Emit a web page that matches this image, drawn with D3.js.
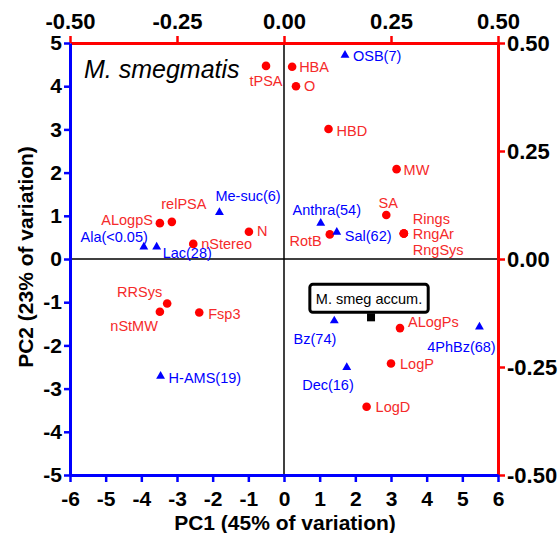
<!DOCTYPE html>
<html>
<head>
<meta charset="utf-8">
<script src="https://cdn.jsdelivr.net/npm/d3@7/dist/d3.min.js"></script>
<style>
  html, body { margin: 0; padding: 0; background: #fff; }
  svg { display: block; font-family: "Liberation Sans", Arial, Helvetica, sans-serif; }
</style>
</head>
<body>
<svg id="chart" width="560" height="533"></svg>
<script>
// Variable loadings (top/right axes, red dots)
const loadingNames = ["tPSA", "HBA", "O", "HBD", "MW", "SA", "Rings", "RngAr", "RngSys", "RotB",
  "relPSA", "ALogpS", "nStereo", "N", "RRSys", "nStMW", "Fsp3", "ALogPs", "LogP", "LogD"];
const loadingPC1 = [-0.042, 0.019, 0.028, 0.104, 0.263, 0.239, 0.280, 0.280, 0.280, 0.107,
  -0.262, -0.290, -0.212, -0.082, -0.273, -0.290, -0.198, 0.271, 0.250, 0.193];
const loadingPC2 = [0.447, 0.445, 0.400, 0.301, 0.208, 0.102, 0.059, 0.059, 0.059, 0.057,
  0.086, 0.083, 0.035, 0.063, -0.103, -0.122, -0.124, -0.160, -0.242, -0.342];

// Compound scores (bottom/left axes, blue triangles)
const compoundNames = ["OSB(7)", "Me-suc(6)", "Ala(<0.05)", "Lac(28)", "Anthra(54)", "Sal(62)",
  "H-AMS(19)", "Bz(74)", "4PhBz(68)", "Dec(16)"];
const compoundPC1 = [1.71, -1.81, -3.93, -3.57, 1.03, 1.48, -3.46, 1.41, 5.48, 1.76];
const compoundPC2 = [4.72, 1.08, 0.28, 0.28, 0.83, 0.62, -2.71, -1.43, -1.57, -2.51];

// Accumulation score (black square)
const accumNames = ["M. smeg accum."];
const accumPC1 = [2.44];
const accumPC2 = [-1.35];

// Tick values
const pc1Ticks = [-6, -5, -4, -3, -2, -1, 0, 1, 2, 3, 4, 5, 6];
const pc2Ticks = [-5, -4, -3, -2, -1, 0, 1, 2, 3, 4, 5];
const loadingTicks = [-0.5, -0.25, 0, 0.25, 0.5];

const titleText = "M. smegmatis";
const xTitle = "PC1 (45% of variation)";
const yTitle = "PC2 (23% of variation)";

// Label placement: [dx, dy, anchor] relative to the marker
const labelPlacement = {
  "tPSA": [0, 15, "middle"], "HBA": [7, 0, "start"], "O": [8, 0, "start"],
  "HBD": [8, 2, "start"], "MW": [7, 1, "start"], "SA": [2, -12, "middle"],
  "Rings": [9, -15, "start"], "RngAr": [9, 0, "start"], "RngSys": [9, 16, "start"],
  "RotB": [-8, 6, "end"], "relPSA": [12, -18, "middle"], "ALogpS": [-7, -3, "end"],
  "nStereo": [8, 0, "start"], "N": [8, -1, "start"], "RRSys": [-5, -12, "end"],
  "nStMW": [-2, 14, "end"], "Fsp3": [9, 1, "start"], "ALogPs": [8, -6, "start"],
  "LogP": [9, 0, "start"], "LogD": [9, 0, "start"],
  "OSB(7)": [8, 1, "start"], "Me-suc(6)": [-4, -17, "start"], "Ala(<0.05)": [4, -10, "end"],
  "Lac(28)": [6, 6, "start"], "Anthra(54)": [6, -13, "middle"], "Sal(62)": [8, 4, "start"],
  "H-AMS(19)": [8, 2, "start"], "Bz(74)": [2, 18, "end"], "4PhBz(68)": [-18, 20, "middle"],
  "Dec(16)": [7, 17, "end"]
};

const RED = "#ff0000", RED_TEXT = "#f52a2a", BLUE = "#0000ff";

const svg = d3.select("#chart");
const plotLeft = 70, plotRight = 498, plotTop = 43, plotBottom = 475;

const x = d3.scaleLinear().domain([-6, 6]).range([plotLeft, plotRight]);
const y = d3.scaleLinear().domain([-5, 5]).range([plotBottom, plotTop]);
const xL = d3.scaleLinear().domain([-0.5, 0.5]).range([plotLeft, plotRight]);
const yL = d3.scaleLinear().domain([-0.5, 0.5]).range([plotBottom, plotTop]);

// zero reference lines
svg.append("line").attr("x1", x(0)).attr("x2", x(0)).attr("y1", plotTop).attr("y2", plotBottom)
  .attr("stroke", "#000").attr("stroke-width", 1.5);
svg.append("line").attr("x1", plotLeft).attr("x2", plotRight).attr("y1", y(0)).attr("y2", y(0))
  .attr("stroke", "#000").attr("stroke-width", 1.5);

function styleAxis(g, color, size) {
  g.select(".domain").attr("stroke", color).attr("stroke-width", 3);
  g.selectAll(".tick line").attr("stroke", color).attr("stroke-width", 2.5);
  g.selectAll(".tick text").attr("fill", "#000").attr("font-size", size)
    .attr("font-weight", "bold").attr("font-family", "Liberation Sans, Arial, sans-serif");
}

// plain hyphen for negative numbers
const fmt2 = v => d3.format(".2f")(v).replace("\u2212", "-");
const fmtInt = v => d3.format("d")(v).replace("\u2212", "-");

// top axis (loadings, red)
svg.append("g").attr("transform", `translate(0,${plotTop})`)
  .call(d3.axisTop(xL).tickValues(loadingTicks).tickFormat(fmt2).tickSize(7).tickSizeOuter(0).tickPadding(7))
  .call(g => styleAxis(g, RED, 22));
// right axis (loadings, red)
svg.append("g").attr("transform", `translate(${plotRight},0)`)
  .call(d3.axisRight(yL).tickValues(loadingTicks).tickFormat(fmt2).tickSize(7).tickSizeOuter(0).tickPadding(2))
  .call(g => styleAxis(g, RED, 22));
// bottom axis (PC1, blue)
svg.append("g").attr("transform", `translate(0,${plotBottom})`)
  .call(d3.axisBottom(x).tickValues(pc1Ticks).tickFormat(fmtInt).tickSize(7).tickSizeOuter(0).tickPadding(9))
  .call(g => styleAxis(g, BLUE, 21));
// left axis (PC2, blue)
svg.append("g").attr("transform", `translate(${plotLeft},0)`)
  .call(d3.axisLeft(y).tickValues(pc2Ticks).tickFormat(fmtInt).tickSize(6).tickSizeOuter(0).tickPadding(2))
  .call(g => styleAxis(g, BLUE, 21));

// axis titles
svg.append("text").attr("x", (plotLeft + plotRight) / 2 + 1).attr("y", 530)
  .attr("text-anchor", "middle").attr("font-size", 21).attr("font-weight", "bold").text(xTitle);
svg.append("text").attr("transform", `translate(33,${(plotTop + plotBottom) / 2 - 2}) rotate(-90)`)
  .attr("text-anchor", "middle").attr("font-size", 21).attr("font-weight", "bold").text(yTitle);

// chart title
svg.append("text").attr("x", 84).attr("y", 78).attr("font-size", 25)
  .attr("font-style", "italic").text(titleText);

const labelSize = 14.5;
function addLabel(name, px, py, color) {
  const p = labelPlacement[name] || [8, 0, "start"];
  svg.append("text").attr("x", px + p[0]).attr("y", py + p[1] + labelSize * 0.36)
    .attr("text-anchor", p[2]).attr("font-size", labelSize).attr("fill", color).text(name);
}

// loadings
const loadings = loadingNames.map((n, i) => ({ name: n, a: loadingPC1[i], b: loadingPC2[i] }));
svg.append("g").selectAll("circle").data(loadings).join("circle")
  .attr("cx", d => xL(d.a)).attr("cy", d => yL(d.b)).attr("r", 4.3).attr("fill", RED);
loadings.forEach(d => addLabel(d.name, xL(d.a), yL(d.b), RED_TEXT));

// compounds
const compounds = compoundNames.map((n, i) => ({ name: n, a: compoundPC1[i], b: compoundPC2[i] }));
const tri = d3.symbol().type(d3.symbolTriangle).size(34);
svg.append("g").selectAll("path").data(compounds).join("path")
  .attr("transform", d => `translate(${x(d.a)},${y(d.b)})`).attr("d", tri).attr("fill", BLUE);
compounds.forEach(d => addLabel(d.name, x(d.a), y(d.b), BLUE));

// accumulation marker with boxed label
const accum = accumNames.map((n, i) => ({ name: n, a: accumPC1[i], b: accumPC2[i] }));
accum.forEach(d => {
  const px = x(d.a), py = y(d.b);
  svg.append("rect").attr("x", px - 4).attr("y", py - 4).attr("width", 8).attr("height", 8).attr("fill", "#000");
  const g = svg.append("g");
  const t = g.append("text").attr("x", px - 2).attr("y", py - 19 + labelSize * 0.36)
    .attr("text-anchor", "middle").attr("font-size", labelSize).attr("fill", "#000").text(d.name);
  const bb = t.node().getBBox();
  g.insert("rect", "text").attr("x", bb.x - 6).attr("y", py - 33).attr("width", bb.width + 12).attr("height", 28)
    .attr("rx", 3).attr("fill", "#fff").attr("stroke", "#000").attr("stroke-width", 3);
});
</script>
</body>
</html>
